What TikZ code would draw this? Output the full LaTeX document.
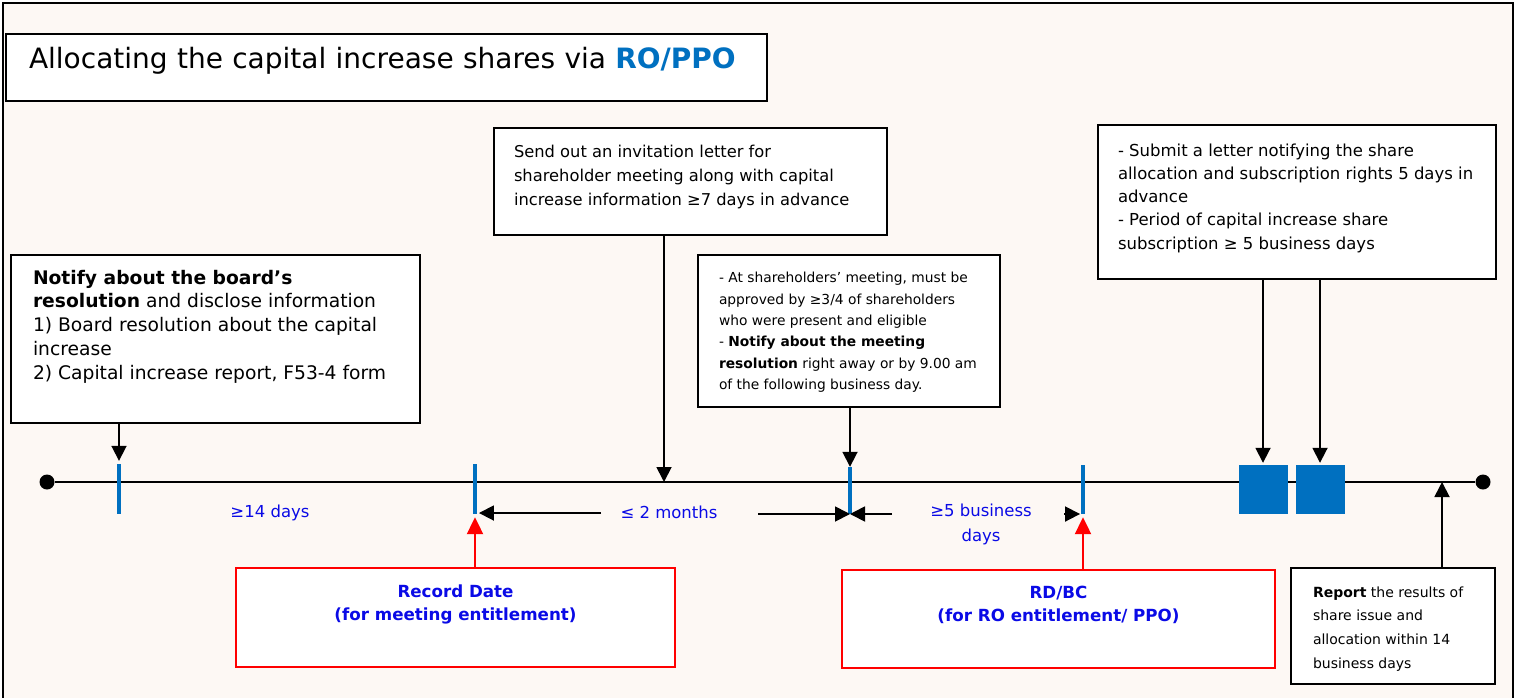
\documentclass[tikz,border=0pt]{standalone}
\usepackage{fontspec}
\setmainfont{DejaVu Sans}
\usepackage{tikz}
\usetikzlibrary{arrows.meta}
\usetikzlibrary{shapes}
\definecolor{paper}{RGB}{253,248,244}
\definecolor{roblue}{RGB}{0,112,192}
\definecolor{txtblue}{RGB}{10,10,230}
\tikzstyle{infobox}=[rectangle,draw=black,line width=2pt,fill=white,anchor=north west,inner ysep=0pt]
\tikzstyle{datebox}=[rectangle,draw=red,line width=2pt,fill=white,anchor=north west,inner xsep=0pt,font=\bfseries\color{txtblue}\fontsize{16.7}{23}\selectfont]
\tikzstyle{subbox}=[rectangle,fill=roblue,minimum width=49pt,minimum height=49pt,inner sep=0pt]
\tikzstyle{datetick}=[rectangle,fill=roblue,minimum width=3.5pt,minimum height=50pt,inner sep=0pt]
\tikzstyle{timedot}=[circle,fill=black,minimum size=15pt,inner sep=0pt]
\tikzstyle{gaplabel}=[txtblue,font=\fontsize{16.5}{25}\selectfont]
\tikzstyle{arrow}=[-{Triangle[length=15pt,width=15pt]},line width=1.8pt]
\tikzstyle{redarrow}=[-{Triangle[length=17pt,width=16pt]},line width=2.2pt,red]
\begin{document}
\begin{tikzpicture}[x=1pt,y=-1pt]
\useasboundingbox (0,0) rectangle (1517,697);
\draw[line width=1.8pt,fill=paper] (3,3) rectangle (1513,710);
\node[infobox,anchor=base west,inner xsep=23pt,text width=715pt,text height=34pt,text depth=33pt,font=\fontsize{28}{34}\selectfont] (title) at (5,68)
  {Allocating the capital increase shares via \textbf{\color{roblue}RO/PPO}};

\node[timedot] (start) at (47,482) {};
\node[timedot] (end) at (1483,482) {};
\draw[line width=2.8pt] (start) -- (end);
\coordinate (letter) at (664,482);
\coordinate (result) at (1442,482);
\node[datetick] (tBoard) at (119,489) {};
\node[datetick] (tRecord) at (475,489) {};
\node[datetick,minimum height=47pt] (tMeet) at (850,490.5) {};
\node[datetick,minimum height=49pt] (tRD) at (1083,489.5) {};
\node[subbox] (subA) at (1263,489.5) {};
\node[subbox] (subB) at (1320,489.5) {};

\node[infobox,inner xsep=22pt,inner ysep=15pt,font=\fontsize{18.7}{23.7}\selectfont] (notify) at (10,254)
  {\parbox[c][138pt][t]{365pt}{\raggedright\textbf{Notify about the board’s}\\\textbf{resolution} and disclose information\\1) Board resolution about the capital\\increase\\2) Capital increase report, F53-4 form}};
\node[infobox,inner xsep=20pt,inner ysep=17.6pt,font=\fontsize{16.3}{24}\selectfont] (invite) at (493,127)
  {\parbox[c][71.8pt][t]{353pt}{\raggedright Send out an invitation letter for\\shareholder meeting along with capital\\increase information ≥7 days in advance}};
\node[infobox,inner xsep=21pt,inner ysep=17.5pt,font=\fontsize{13.8}{21.3}\selectfont] (meeting) at (697,254)
  {\parbox[c][117pt][t]{260pt}{\raggedright - At shareholders’ meeting, must be\\approved by ≥3/4 of shareholders\\who were present and eligible\\- \textbf{Notify about the meeting}\\\textbf{resolution} right away or by 9.00 am\\of the following business day.}};
\node[infobox,inner xsep=20pt,inner ysep=18.5pt,font=\fontsize{16.5}{23.3}\selectfont] (submit) at (1097,124)
  {\parbox[c][117pt][t]{358pt}{\raggedright - Submit a letter notifying the share\\allocation and subscription rights 5 days in\\advance\\- Period of capital increase share\\subscription ≥ 5 business days}};
\node[infobox,inner xsep=22pt,inner ysep=18.4pt,font=\fontsize{14}{23.7}\selectfont] (report) at (1290,567)
  {\parbox[c][79.2pt][t]{160pt}{\raggedright\textbf{Report} the results of\\share issue and\\allocation within 14\\business days}};
\node[datebox,inner ysep=16.3pt] (record) at (235,567)
  {\parbox[c][66.4pt][t]{439pt}{\centering Record Date\\(for meeting entitlement)}};
\node[datebox,inner ysep=16.3pt] (rdbc) at (841,569)
  {\parbox[c][65.4pt][t]{433pt}{\centering RD/BC\\(for RO entitlement/ PPO)}};

\node[gaplabel] (d14) at (270,513) {≥14 days};
\node[gaplabel] (d2m) at (669,512) {≤ 2 months};
\node[gaplabel,align=center] (d5b) at (981,524) {≥5 business\\days};
\coordinate (m2L) at (601,513);
\coordinate (m2R) at (758,514);
\coordinate (b5L) at (892,514);
\coordinate (b5R) at (1064,514);

\draw[arrow,shorten >=3pt] (notify.south -| tBoard) -- (tBoard.north);
\draw[arrow] (invite.south -| letter) -- (letter);
\draw[arrow] (meeting.south -| tMeet) -- (tMeet.north);
\draw[arrow,shorten >=2pt] (submit.south -| subA) -- (subA.north);
\draw[arrow,shorten >=2pt] (submit.south -| subB) -- (subB.north);
\draw[arrow] (report.north -| result) -- (result);
\draw[redarrow,shorten >=3pt] (record.north -| tRecord) -- (tRecord.south);
\draw[redarrow,shorten >=3pt] (rdbc.north -| tRD) -- (tRD.south);
\draw[arrow,shorten >=2pt] (m2L) -- (m2L -| tRecord.east);
\draw[arrow] (m2R) -- (m2R -| tMeet);
\draw[arrow] (b5L) -- (b5L -| tMeet);
\draw[arrow,shorten >=1pt] (b5R) -- (b5R -| tRD.west);
\end{tikzpicture}
\end{document}
